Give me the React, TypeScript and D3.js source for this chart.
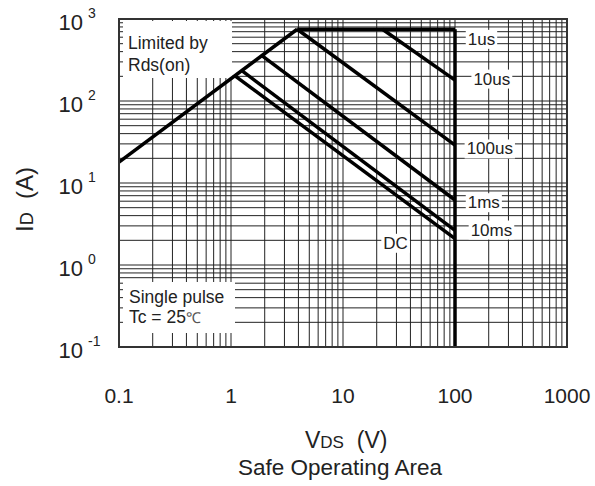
import React, { useEffect, useRef } from 'react';
import * as d3 from 'd3';

// axis ticks
const xTicks = [0.1, 1, 10, 100, 1000];
const yExponents = [3, 2, 1, 0, -1];

// SOA boundary segments, [VDS (V), ID (A)]
const rdsLimit = [[0.1, 18], [3.9, 750]];
const pulse1us = [[3.9, 750], [100, 750]];
const pulse10us = [[22.5, 750], [100, 180]];
const pulse100us = [[3.9, 750], [100, 29]];
const pulse1ms = [[1.9, 355], [100, 6.2]];
const pulse10ms = [[1.25, 234], [100, 2.65]];
const dcLine = [[1.085, 203], [100, 2.1]];
const vdsMax = [[100, 750], [100, 0.1]];

const segments = [rdsLimit, pulse1us, pulse10us, pulse100us, pulse1ms, pulse10ms, dcLine, vdsMax];

// curve labels: left edge V, vertical centre I
const curveLabels = [
  { text: '1us', v: 130, i: 565 },
  { text: '10us', v: 146, i: 185 },
  { text: '100us', v: 127, i: 26 },
  { text: '1ms', v: 130, i: 5.75 },
  { text: '10ms', v: 138, i: 2.67 },
  { text: 'DC', v: 22.9, i: 1.84 },
];

const FONT = "'Liberation Sans', Arial, Helvetica, sans-serif";

const App = () => {
  const svgRef = useRef<SVGSVGElement>(null);

  useEffect(() => {
    const svg = d3.select(svgRef.current);
    svg.selectAll('*').remove();

    const left = 119, right = 567, top = 19, bottom = 347;
    const x = d3.scaleLog().domain([0.1, 1000]).range([left, right]);
    const y = d3.scaleLog().domain([0.1, 1000]).range([bottom, top]);

    // minor + major grid, 1..9 per decade
    const gridVals: number[] = [];
    for (let d = -1; d < 3; d++) {
      for (let k = 1; k <= 9; k++) gridVals.push(k * Math.pow(10, d));
    }
    gridVals.push(1000);

    const grid = svg.append('g').attr('stroke', '#222').attr('stroke-width', 1);
    grid.selectAll('.vg')
      .data(gridVals)
      .enter()
      .append('line')
      .attr('x1', d => x(d)).attr('x2', d => x(d))
      .attr('y1', top).attr('y2', bottom);
    grid.selectAll('.hg')
      .data(gridVals)
      .enter()
      .append('line')
      .attr('y1', d => y(d)).attr('y2', d => y(d))
      .attr('x1', left).attr('x2', right);

    // note boxes
    svg.append('rect').attr('x', 123).attr('y', 21).attr('width', 109).attr('height', 57).attr('fill', '#fff');
    svg.append('rect').attr('x', 123).attr('y', 282).attr('width', 112).attr('height', 51).attr('fill', '#fff');

    const notes = svg.append('g')
      .attr('font-family', FONT)
      .attr('font-size', 17.5)
      .attr('fill', '#222');
    notes.append('text').attr('x', 128).attr('y', 49).text('Limited by');
    notes.append('text').attr('x', 128).attr('y', 71).text('Rds(on)');
    notes.append('text').attr('x', 129).attr('y', 303).text('Single pulse');
    const tc = notes.append('text').attr('x', 129).attr('y', 323);
    tc.append('tspan').text('Tc = 25');
    tc.append('tspan').attr('font-size', 15).attr('fill', '#555').text('℃');

    // curve labels with white backing
    const lab = svg.append('g');
    curveLabels.forEach(l => {
      const t = lab.append('text')
        .attr('x', x(l.v))
        .attr('y', y(l.i))
        .attr('dominant-baseline', 'central')
        .attr('font-family', FONT)
        .attr('font-size', 17)
        .attr('fill', '#222')
        .text(l.text);
      const bb = (t.node() as SVGTextElement).getBBox();
      lab.insert('rect', () => t.node())
        .attr('x', bb.x - 2)
        .attr('y', bb.y)
        .attr('width', bb.width + 4)
        .attr('height', bb.height)
        .attr('fill', '#fff');
    });

    // SOA lines
    const line = d3.line<number[]>().x(d => x(d[0])).y(d => y(d[1]));
    svg.append('g')
      .selectAll('path')
      .data(segments)
      .enter()
      .append('path')
      .attr('d', d => line(d))
      .attr('fill', 'none')
      .attr('stroke', '#000')
      .attr('stroke-width', 3.5)
      .attr('stroke-linejoin', 'miter');

    // frame
    svg.append('rect')
      .attr('x', left).attr('y', top)
      .attr('width', right - left).attr('height', bottom - top)
      .attr('fill', 'none')
      .attr('stroke', '#333')
      .attr('stroke-width', 2);

    // x tick labels
    svg.append('g')
      .selectAll('text')
      .data(xTicks)
      .enter()
      .append('text')
      .attr('x', d => x(d))
      .attr('y', 403)
      .attr('text-anchor', 'middle')
      .attr('font-family', FONT)
      .attr('font-size', 21)
      .attr('fill', '#222')
      .text(d => String(d));

    // y tick labels 10^n
    const yl = svg.append('g').attr('font-family', FONT).attr('fill', '#222');
    yExponents.forEach(e => {
      const ty = y(Math.pow(10, e));
      yl.append('text').attr('x', 83).attr('y', ty + 10.5)
        .attr('text-anchor', 'end').attr('font-size', 22).text('10');
      yl.append('text').attr('x', 88).attr('y', ty - 1.5)
        .attr('font-size', 14).text(String(e));
    });

    // axis titles
    const xt = svg.append('text')
      .attr('x', 305).attr('y', 448)
      .attr('font-family', FONT).attr('font-size', 23).attr('fill', '#222')
      .attr('xml:space', 'preserve');
    xt.append('tspan').text('V');
    xt.append('tspan').attr('font-size', 17).text('DS');
    xt.append('tspan').text('  (V)');

    svg.append('text')
      .attr('x', 340).attr('y', 475)
      .attr('text-anchor', 'middle')
      .attr('font-family', FONT).attr('font-size', 22.5).attr('fill', '#222')
      .text('Safe Operating Area');

    const yt = svg.append('text')
      .attr('transform', 'translate(33,232) rotate(-90)')
      .attr('font-family', FONT).attr('font-size', 24).attr('fill', '#222')
      .attr('xml:space', 'preserve');
    yt.append('tspan').text('I');
    yt.append('tspan').attr('font-size', 18).text('D');
    yt.append('tspan').text('  (A)');
  }, []);

  return (
    <div style={{ position: 'absolute', left: 0, top: 0, width: 595, height: 486, background: '#fff' }}>
      <svg ref={svgRef} width={595} height={486} style={{ display: 'block' }}></svg>
    </div>
  );
};

export default App;
